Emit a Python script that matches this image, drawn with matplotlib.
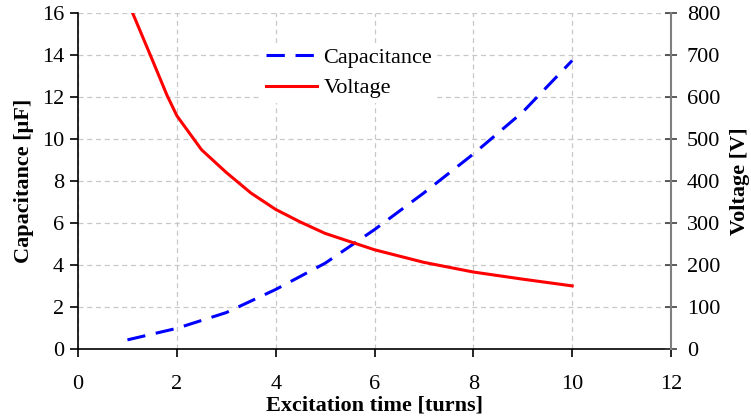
import matplotlib
matplotlib.use("Agg")
import matplotlib.pyplot as plt

# Data
turns_c = [1, 2, 3, 4, 5, 6, 7, 8, 9, 10]
capacitance = [0.45, 1.0, 1.75, 2.85, 4.1, 5.7, 7.45, 9.3, 11.3, 13.75]
turns_v = [1, 1.5, 1.8, 2, 2.5, 3, 3.5, 4, 4.5, 5, 6, 7, 8, 9, 10]
voltage = [830, 690, 605, 556, 475, 421, 372, 333, 303, 276, 237, 207, 184, 167, 151]
x_ticks = [0, 2, 4, 6, 8, 10, 12]
c_ticks = [0, 2, 4, 6, 8, 10, 12, 14, 16]
v_ticks = [0, 100, 200, 300, 400, 500, 600, 700, 800]

plt.rcParams['font.family'] = ['Liberation Serif', 'DejaVu Serif']
fs = 16

fig = plt.figure(figsize=(7.51, 4.19), dpi=100)
ax = fig.add_axes([0.1039, 0.1663, 0.7896, 0.802])
ax2 = ax.twinx()

lc, = ax.plot(turns_c, capacitance, color='#0000ff', lw=2.2, dashes=(6, 3.5), label='Capacitance')
lv, = ax2.plot(turns_v, voltage, color='#ff0000', lw=2.2, label='Voltage')

ax.set_xlim(0, 12)
ax.set_ylim(0, 16)
ax2.set_ylim(0, 800)
ax.set_xticks(x_ticks)
ax.set_yticks(c_ticks)
ax2.set_yticks(v_ticks)

ax.grid(True, color='#c8c8c8', linestyle=(0, (4, 3)), linewidth=0.9)
ax.set_axisbelow(True)

ax.spines['top'].set_visible(False)
ax2.spines['top'].set_visible(False)
ax.spines['right'].set_visible(False)
ax2.spines['left'].set_visible(False)
ax2.spines['bottom'].set_visible(False)
ax2.spines['right'].set_color('#7f7f7f')
ax2.spines['right'].set_linewidth(1.5)
ax.spines['left'].set_linewidth(1.2)
ax.spines['bottom'].set_linewidth(1.2)

ax.tick_params(axis='both', labelsize=fs, length=6, width=1.2, direction='out')
ax.tick_params(axis='x', pad=12.5)
ax.tick_params(axis='y', pad=4)
ax2.tick_params(axis='y', labelsize=fs, length=8.6, width=1.2, direction='inout', color='#404040', pad=7)

ax.set_xlabel('Excitation time [turns]', fontsize=fs, fontweight='bold', labelpad=1)
ax.set_ylabel('Capacitance [\u03bcF]', fontsize=fs, fontweight='bold', labelpad=6)
ax2.set_ylabel('Voltage [V]', fontsize=fs, fontweight='bold', labelpad=7)

leg = ax2.legend(handles=[lc, lv], loc='upper left', bbox_to_anchor=(0.29, 0.945),
                 fontsize=fs, frameon=True, framealpha=1, edgecolor='none',
                 fancybox=False, handlelength=2.3, handletextpad=0.3,
                 borderpad=0.2, labelspacing=0.45)

fig.savefig('out.png', dpi=100)
